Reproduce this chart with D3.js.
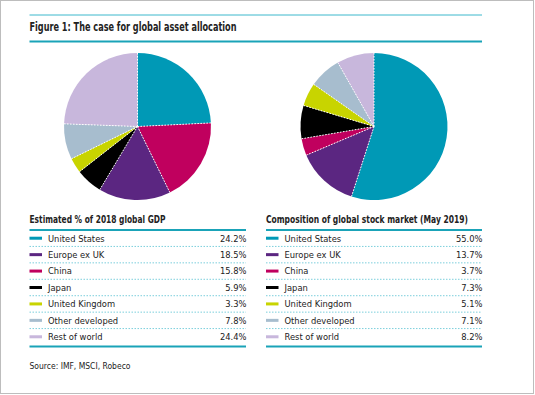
<!DOCTYPE html>
<html>
<head>
<meta charset="utf-8">
<script src="https://cdn.jsdelivr.net/npm/d3@7"></script>
<style>
  body { margin: 0; background: #fff; }
  text { font-family: "Liberation Sans Narrow", "DejaVu Sans Condensed", "Liberation Sans", sans-serif; fill: #222; }
</style>
</head>
<body>
<div id="chart"></div>
<script>
var categories = ['United States', 'Europe ex UK', 'China', 'Japan', 'United Kingdom', 'Other developed', 'Rest of world'];
var gdp_values = [24.2, 18.5, 15.8, 5.9, 3.3, 7.8, 24.4];
var market_values = [55.0, 13.7, 3.7, 7.3, 5.1, 7.1, 8.2];
var colors = ['#0099b6', '#5b2681', '#c0005e', '#000000', '#c8d400', '#a7bdce', '#c8b7dc'];
// the GDP pie in the original has its 2nd and 3rd colours the other way round
var gdp_pie_colors = ['#0099b6', '#c0005e', '#5b2681', '#000000', '#c8d400', '#a7bdce', '#c8b7dc'];
var title = 'Figure 1: The case for global asset allocation';
var gdp_title = 'Estimated % of 2018 global GDP';
var market_title = 'Composition of global stock market (May 2019)';
var source = 'Source: IMF, MSCI, Robeco';

var chart_width = 535;
var chart_height = 395;
var radius = 73.5;

var svg = d3.select('#chart')
  .append('svg')
  .attr('width', chart_width)
  .attr('height', chart_height);

// frame
svg.append('rect')
  .attr('x', 0.5).attr('y', 0.5)
  .attr('width', 533).attr('height', 393)
  .attr('fill', 'none')
  .attr('stroke', '#bdbdbd');

// header
svg.append('line')
  .attr('x1', 29.5).attr('x2', 482).attr('y1', 15).attr('y2', 15)
  .attr('stroke', '#3cb8cc').attr('stroke-width', 1);
svg.append('text')
  .attr('x', 29.5).attr('y', 31)
  .attr('font-size', 12.5).attr('font-weight', 'bold')
  .attr('textLength', 207).attr('lengthAdjust', 'spacingAndGlyphs')
  .text(title);
svg.append('line')
  .attr('x1', 29.5).attr('x2', 482).attr('y1', 41.5).attr('y2', 41.5)
  .attr('stroke', '#1aa3b8').attr('stroke-width', 2);

var pie = d3.pie().sort(null).value((d) => d);
var arc = d3.arc().innerRadius(0).outerRadius(radius);

function draw_pie(values, cols, cx, cy) {
  var g = svg.append('g').attr('transform', 'translate(' + cx + ',' + cy + ')');
  var slices = pie(values);
  g.selectAll('path')
    .data(slices)
    .enter()
    .append('path')
    .attr('d', arc)
    .attr('fill', (d, i) => cols[i]);
  // dotted white dividers
  g.selectAll('line')
    .data(slices)
    .enter()
    .append('line')
    .attr('x1', 0).attr('y1', 0)
    .attr('x2', (d) => d3.pointRadial(d.startAngle, radius)[0])
    .attr('y2', (d) => d3.pointRadial(d.startAngle, radius)[1])
    .attr('stroke', '#fff')
    .attr('stroke-width', 1)
    .attr('stroke-dasharray', '1.5,1.5');
}

draw_pie(gdp_values, gdp_pie_colors, 137.5, 126.5);
draw_pie(market_values, colors, 374, 126.5);

function draw_table(values, heading, heading_width, x0, x1) {
  var g = svg.append('g');
  var y_scale = d3.scaleBand()
    .domain(categories)
    .range([230, 345]);

  g.append('text')
    .attr('x', x0).attr('y', 223.3)
    .attr('font-size', 9.7).attr('font-weight', 'bold')
    .attr('textLength', heading_width).attr('lengthAdjust', 'spacingAndGlyphs')
    .text(heading);

  g.append('line')
    .attr('x1', x0).attr('x2', x1).attr('y1', 230).attr('y2', 230)
    .attr('stroke', '#1aa3b8').attr('stroke-width', 2);
  g.append('line')
    .attr('x1', x0).attr('x2', x1).attr('y1', 346.5).attr('y2', 346.5)
    .attr('stroke', '#1aa3b8').attr('stroke-width', 2);

  // dotted separators between rows
  g.selectAll('.sep')
    .data(categories.slice(1))
    .enter()
    .append('line')
    .attr('class', 'sep')
    .attr('x1', x0).attr('x2', x1)
    .attr('y1', (d) => y_scale(d)).attr('y2', (d) => y_scale(d))
    .attr('stroke', '#7ccfdc')
    .attr('stroke-width', 1)
    .attr('stroke-dasharray', '1.5,1.5');

  var rows = g.selectAll('.row')
    .data(categories)
    .enter()
    .append('g')
    .attr('class', 'row')
    .attr('transform', (d) => 'translate(0,' + (y_scale(d) + y_scale.bandwidth() / 2) + ')');

  rows.append('rect')
    .attr('x', x0).attr('y', -1.5)
    .attr('width', 12.5).attr('height', 3)
    .attr('fill', (d, i) => colors[i]);

  rows.append('text')
    .attr('x', x0 + 18.5).attr('y', 3.3)
    .attr('font-size', 9.3)
    .text((d) => d);

  rows.append('text')
    .attr('x', x1 + 0.5).attr('y', 3.3)
    .attr('font-size', 9.3)
    .attr('text-anchor', 'end')
    .text((d, i) => values[i].toFixed(1) + '%');
}

draw_table(gdp_values, gdp_title, 136, 29.5, 246);
draw_table(market_values, market_title, 202, 266, 482);

svg.append('text')
  .attr('x', 29.5).attr('y', 369)
  .attr('font-size', 9)
  .attr('textLength', 101).attr('lengthAdjust', 'spacingAndGlyphs')
  .text(source);
</script>
</body>
</html>
